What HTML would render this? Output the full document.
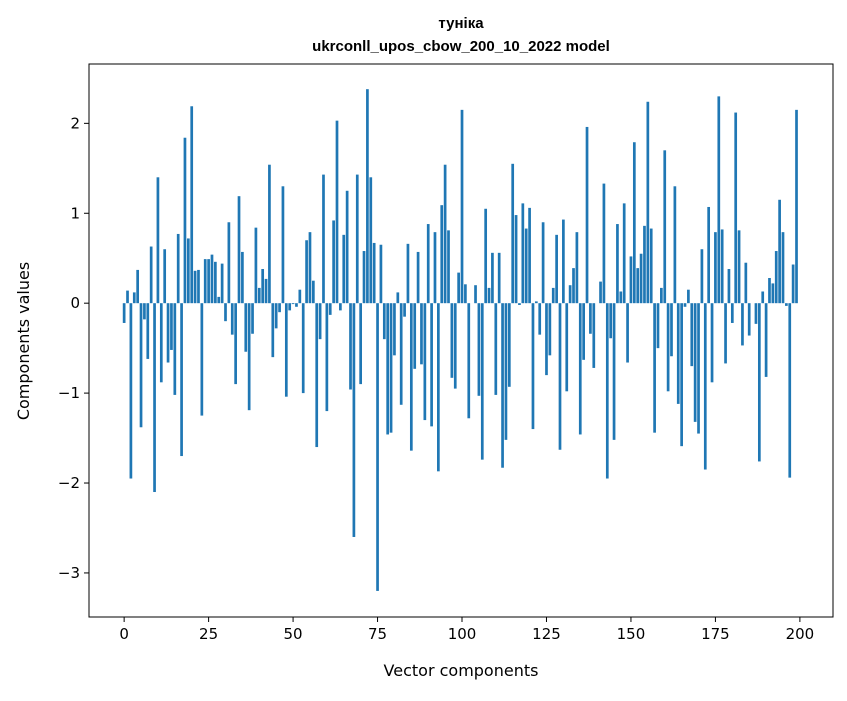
<!DOCTYPE html>
<html><head><meta charset="utf-8"><style>
body{margin:0;background:#fff;font-family:"Liberation Sans","DejaVu Sans",sans-serif;}
svg text{font-family:"DejaVu Sans","Liberation Sans",sans-serif;}
svg text.ttl{font-family:"Liberation Sans","DejaVu Sans",sans-serif;}
</style></head><body>
<svg id="chart" width="847" height="696" xmlns="http://www.w3.org/2000/svg">
<rect width="847" height="696" fill="#fff"/>
<text class="ttl" x="461" y="28" text-anchor="middle" font-size="15" font-weight="bold">туніка</text>
<text class="ttl" x="461" y="51" text-anchor="middle" font-size="15" font-weight="bold">ukrconll_upos_cbow_200_10_2022 model</text>
<g id="bars"></g>
<g id="axes"></g>
<text x="461" y="676" text-anchor="middle" font-size="16">Vector components</text>
<text transform="translate(29,341) rotate(-90)" text-anchor="middle" font-size="16">Components values</text>
</svg>
<script>
const values = [-0.22,0.14,-1.95,0.12,0.37,-1.38,-0.18,-0.62,0.63,-2.1,
1.4,-0.88,0.6,-0.66,-0.52,-1.02,0.77,-1.7,1.84,0.72,
2.19,0.36,0.37,-1.25,0.49,0.49,0.54,0.46,0.07,0.44,
-0.2,0.9,-0.35,-0.9,1.19,0.57,-0.54,-1.19,-0.34,0.84,
0.17,0.38,0.27,1.54,-0.6,-0.28,-0.1,1.3,-1.04,-0.08,
-0.01,-0.04,0.15,-1.0,0.7,0.79,0.25,-1.6,-0.4,1.43,
-1.2,-0.13,0.92,2.03,-0.08,0.76,1.25,-0.96,-2.6,1.43,
-0.9,0.58,2.38,1.4,0.67,-3.2,0.65,-0.4,-1.46,-1.44,
-0.58,0.12,-1.13,-0.15,0.66,-1.64,-0.73,0.57,-0.68,-1.3,
0.88,-1.37,0.79,-1.87,1.09,1.54,0.81,-0.83,-0.95,0.34,
2.15,0.21,-1.28,0.0,0.2,-1.03,-1.74,1.05,0.17,0.56,
-1.02,0.56,-1.83,-1.52,-0.93,1.55,0.98,-0.02,1.11,0.83,
1.06,-1.4,0.02,-0.35,0.9,-0.8,-0.58,0.17,0.76,-1.63,
0.93,-0.98,0.2,0.39,0.79,-1.46,-0.63,1.96,-0.34,-0.72,
0.0,0.24,1.33,-1.95,-0.39,-1.52,0.88,0.13,1.11,-0.66,
0.52,1.79,0.39,0.55,0.86,2.24,0.83,-1.44,-0.5,0.17,
1.7,-0.98,-0.59,1.3,-1.12,-1.59,-0.04,0.15,-0.7,-1.32,
-1.45,0.6,-1.85,1.07,-0.88,0.79,2.3,0.82,-0.67,0.38,
-0.22,2.12,0.81,-0.47,0.45,-0.36,0.0,-0.23,-1.76,0.13,
-0.82,0.28,0.22,0.58,1.15,0.79,-0.03,-1.94,0.43,2.15];
const xTicks = [0,25,50,75,100,125,150,175,200];
const yTicks = [-3,-2,-1,0,1,2];
const yTickLabels = ["\u22123","\u22122","\u22121","0","1","2"];

const L=89,R=833,T=64,B=617;
const xMin=-10.4,xMax=209.8,yMin=-3.49,yMax=2.66;
function xs(v){return L+(v-xMin)/(xMax-xMin)*(R-L);}
function ys(v){return B-(v-yMin)/(yMax-yMin)*(B-T);}
const NS="http://www.w3.org/2000/svg";
const bars=document.getElementById('bars');
values.forEach((v,i)=>{
  const r=document.createElementNS(NS,'rect');
  
  
  const x0=xs(i-0.4),x1=xs(i+0.4);
  const y0=ys(Math.max(v,0)),y1=ys(Math.min(v,0));
  r.setAttribute('x',x0);r.setAttribute('width',x1-x0);
  r.setAttribute('y',y0);r.setAttribute('height',Math.max(y1-y0,0.01));
  r.setAttribute('fill','#1f77b4');
  bars.appendChild(r);
});
const ax=document.getElementById('axes');
const frame=document.createElementNS(NS,'rect');


frame.setAttribute('x',L);frame.setAttribute('y',T);frame.setAttribute('width',R-L);frame.setAttribute('height',B-T);
frame.setAttribute('fill','none');frame.setAttribute('stroke','#000');frame.setAttribute('stroke-width','1');
ax.appendChild(frame);
xTicks.forEach(t=>{
  const x=xs(t);
  const l=document.createElementNS(NS,'line');
  
  
  l.setAttribute('x1',x);l.setAttribute('x2',x);l.setAttribute('y1',B);l.setAttribute('y2',B+5);l.setAttribute('stroke','#000');
  ax.appendChild(l);
  const tx=document.createElementNS(NS,'text');
  
  
  tx.setAttribute('x',x);tx.setAttribute('y',B+22);tx.setAttribute('text-anchor','middle');tx.setAttribute('font-size','15');
  tx.textContent=String(t);
  ax.appendChild(tx);
});
yTicks.forEach((t,k)=>{
  const y=ys(t);
  const l=document.createElementNS(NS,'line');
  
  
  l.setAttribute('x1',L-5);l.setAttribute('x2',L);l.setAttribute('y1',y);l.setAttribute('y2',y);l.setAttribute('stroke','#000');
  ax.appendChild(l);
  const tx=document.createElementNS(NS,'text');
  
  
  tx.setAttribute('x',L-9);tx.setAttribute('y',y+5);tx.setAttribute('text-anchor','end');tx.setAttribute('font-size','15');
  tx.textContent=yTickLabels[k];
  ax.appendChild(tx);
});
</script>
</body></html>
